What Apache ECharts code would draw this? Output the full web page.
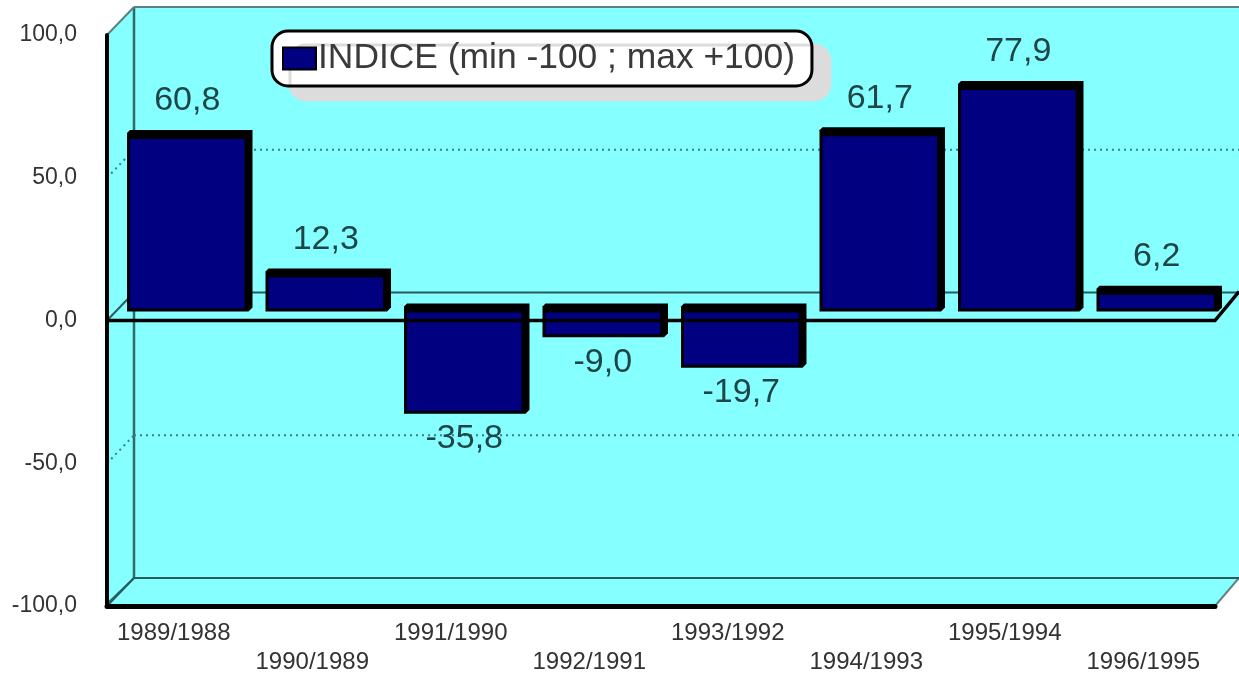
<!DOCTYPE html>
<html><head><meta charset="utf-8">
<style>html,body{margin:0;padding:0;background:#fff}#c{width:1239px;height:677px}</style>
<script src="https://cdn.jsdelivr.net/npm/echarts@6/dist/echarts.min.js"></script>
</head><body><div id="c"></div>
<script>
const categories = ['1989/1988','1990/1989','1991/1990','1992/1991','1993/1992','1994/1993','1995/1994','1996/1995'];
const indexValues = [60.8, 12.3, -35.8, -9.0, -19.7, 61.7, 77.9, 6.2];
const wallTicks = [-100, -50, 0, 50, 100];
const seriesName = 'INDICE (min -100 ; max +100)';
const DX = 27, DY = -28, RIGHT_EDGE = 1239;
const FONT = '"Liberation Sans", Arial, sans-serif';
const fmt = v => v.toFixed(1).replace('.', ',');
const chart = echarts.init(document.getElementById('c'), null, {renderer:'canvas'});

function renderWall(params, api) {
  const v = api.value(0), cs = params.coordSys;
  const y = api.coord([0, v])[1];
  const L = cs.x, R = cs.x + cs.width;
  const kids = [];
  if (v === -100) {
    const T = cs.y;
    kids.push({type:'polygon', silent:true, shape:{points:[[L,T],[L+DX,T+DY],[RIGHT_EDGE,T+DY],[RIGHT_EDGE,y+DY],[R,y],[L,y]]}, style:{fill:'#85ffff'}});
    kids.push({type:'line', shape:{x1:L+DX,y1:T+DY,x2:L+DX,y2:y+DY}, style:{stroke:'#2f6b6b',lineWidth:2.5}});
    kids.push({type:'line', shape:{x1:R,y1:y,x2:RIGHT_EDGE,y2:y+DY}, style:{stroke:'#667f7f',lineWidth:2}});
    kids.push({type:'line', shape:{x1:L,y1:y-2,x2:L+DX,y2:y+DY}, style:{stroke:'#2f6b6b',lineWidth:2}});
  }
  let style;
  if (Math.abs(v) === 50) style = {stroke:'#3a8080',lineWidth:2,lineDash:[2,4]};
  else if (v === 100) style = {stroke:'#5f8080',lineWidth:2};
  else style = {stroke:'#2a5c5c',lineWidth:2};
  kids.push({type:'line', shape:{x1:L,y1:y,x2:L+DX,y2:y+DY}, style});
  kids.push({type:'line', shape:{x1:L+DX,y1:y+DY,x2:RIGHT_EDGE,y2:y+DY}, style});
  return {type:'group', children:kids};
}

function renderBar(params, api) {
  const i = api.value(0), v = api.value(1);
  const c = api.coord([i, v]), z = api.coord([i, 0]);
  const w = api.size([1, 0])[0] * 0.87;
  const x0 = c[0] + 11 - w / 2, x1 = x0 + w;
  const off = -10, slab = 7, side = 5;
  const t = Math.min(c[1], z[1]) + off, b = Math.max(c[1], z[1]) + off;
  const outer = [[x0+3,t-slab],[x1+side,t-slab],[x1+side,b-3],[x1+1,b+1],[x0,b+1],[x0,t-slab+3]];
  const kids = [
    {type:'polygon', shape:{points:outer}, style:{fill:'#000'}},
    {type:'rect', shape:{x:x0+3,y:t+2,width:w-6,height:Math.max(b-t-4,1)}, style:{fill:'#000080'}},
    {type:'text', x:c[0]+11, y: v >= 0 ? t-slab-29 : b+26,
     style:{text:fmt(v), fill:'#1f4646', font:'34px '+FONT, align:'center', verticalAlign:'middle'}}
  ];
  return {type:'group', children:kids};
}

function renderZero(params, api) {
  const cs = params.coordSys, y = api.coord([0, 0])[1];
  const R = cs.x + cs.width;
  return {type:'polyline', shape:{points:[[cs.x,y],[R,y],[RIGHT_EDGE,y+DY-1]]}, style:{stroke:'#000',fill:null,lineWidth:3.5}};
}

chart.setOption({
  animation:false,
  backgroundColor:'#fff',
  grid:{left:107,right:24,top:35,height:571,containLabel:false},
  legend:{
    left:272, top:31, orient:'horizontal', selectedMode:false,
    data:[{name:seriesName, icon:'rect'}],
    itemWidth:33, itemHeight:22, itemGap:0,
    padding:[8,17,8,10],
    backgroundColor:'#fff', borderColor:'#000', borderWidth:3, borderRadius:16,
    shadowColor:'#dcdcdc', shadowBlur:0, shadowOffsetX:18, shadowOffsetY:14,
    textStyle:{fontFamily:'Liberation Sans', fontSize:35.4, color:'#3a3a3a', lineHeight:20, padding:[0,0,19,-3]}
  },
  xAxis:{
    type:'category', data:categories, z:3,
    axisLine:{onZero:false, lineStyle:{color:'#000',width:5}},
    axisTick:{show:false}, splitLine:{show:false},
    axisLabel:{
      interval:0, margin:13, hideOverlap:false, color:'#333',
      fontFamily:'Liberation Sans', fontSize:24, lineHeight:29, padding:[0,5,0,0], verticalAlign:'top',
      formatter:(val,idx)=> idx % 2 ? ' \n'+val : val
    }
  },
  yAxis:{
    type:'value', min:-100, max:100, interval:50, z:3,
    axisLine:{show:true, onZero:false, lineStyle:{color:'#000',width:4}},
    axisTick:{show:false}, splitLine:{show:false},
    axisLabel:{margin:30, color:'#333', fontFamily:'Liberation Sans', fontSize:23, padding:[0,0,9,0], formatter:v=>fmt(v)}
  },
  series:[
    {type:'custom', name:'walls', z:1, silent:true, coordinateSystem:'cartesian2d', renderItem:renderWall,
     encode:{y:0}, data:wallTicks.map(v=>[v])},
    {type:'custom', name:seriesName, z:2, coordinateSystem:'cartesian2d', renderItem:renderBar,
     encode:{x:0,y:1}, itemStyle:{color:'#000080',borderColor:'#000',borderWidth:3},
     data:indexValues.map((v,i)=>[i,v])},
    {type:'custom', name:'zero', z:3, silent:true, coordinateSystem:'cartesian2d', renderItem:renderZero,
     encode:{y:0}, data:[[0]]}
  ]
});
</script></body></html>
